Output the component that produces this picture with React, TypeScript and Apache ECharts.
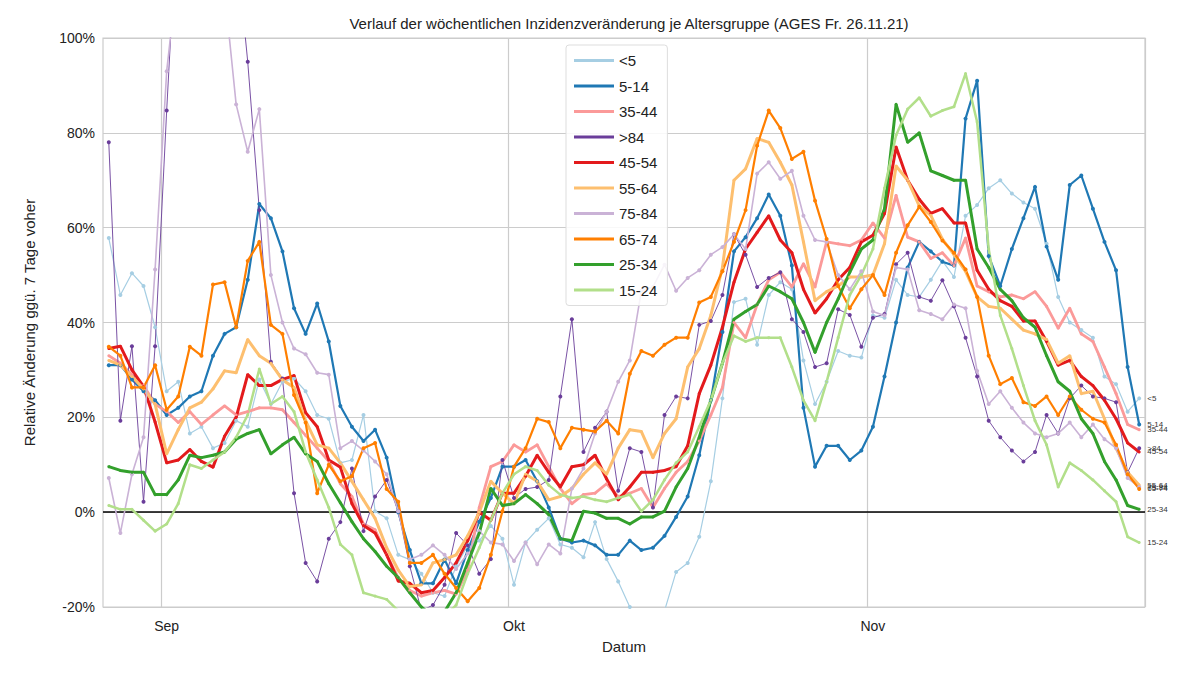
import React, { useEffect, useRef } from "react";
import * as echarts from "echarts";

// one value per day, 27.08.2021 .. 24.11.2021 (relative change vs. 7 days before, in %)
const startDate = "2021-08-27";
const dayCount = 90;
const monthNames = ["Jan", "Feb", "Mär", "Apr", "Mai", "Jun", "Jul", "Aug", "Sep", "Okt", "Nov", "Dez"];

const under5 = [57.8,45.8,50.4,47.7,39,25.5,27.5,16.6,18,13.5,14.6,19.3,18,28,22.8,27.5,28.2,25.5,20.5,19.7,10.4,11,20.5,0.2,-1.3,-9,-10,-13,-17,-17.7,
  -11.4,-7,-6,-2.9,-5.6,-15.3,-6.4,-3.7,-1.3,-6.8,-7.5,-9.5,-2.1,-9.9,-14.6,-20,-23,-23,-20.8,-12.6,-10.7,-5.2,6.5,24,44.3,45,35.3,45.8,48.5,47,
  32,22.8,27.5,34,33,32.6,41.5,41,49,45.8,45.4,49,53,49.6,62.5,64.8,68.3,70,67.2,65.3,64,56.6,45.4,40,38.4,36.8,28.6,27,21.2,24];
const age5to14 = [31,31,28,25.5,23.6,20.5,22,24.4,25.5,33,37.6,39,49,65,62,55,43,37.6,44,36,22.4,18,15,17.4,11.5,0,-8,-15,-15,-10,
  -15,-8,-2,3,9.6,9.6,11,6.5,1,-5.6,-6.4,-6,-7,-9,-9,-6,-8,-7.5,-5,-1,3.3,12,23.6,38,55,58,62,67,62.5,52,
  22,9.6,14,14,11,13,18,28.6,40,51.6,57,55,52.8,52,83,91,54,47.7,55.5,62,68.6,56,49,69,71,64,57,51,30.6,18.5];
const age35to44 = [33,31.4,29,26.7,22.8,21.2,18.9,21.2,18.5,20.5,22.4,20.5,21.2,22,22,21.6,18.9,16.2,13.5,10.7,6,3.3,-2.5,-3.7,-9,-13.8,-16.5,-17.7,-17,-16.5,
  -17.3,-12.2,1,9.6,10.7,14.2,12.7,14.2,9.6,5,1.8,3.7,4,6,3.3,4,5,1,5,8.4,10.7,15,20.5,26.3,40,36.8,43.8,49,50.6,47.5,
  52.4,47.5,57,56.6,56.2,57.4,61,57.8,66.8,58,57,53.5,54.7,52,57.8,47.7,46.5,45.4,45.8,45,46.5,43.4,38.8,43,37.6,36,30.6,25,18.5,17.4];
const over84 = [78,19.3,35,2.2,35,84.7,130,160,170,150,140,120,95,63.7,31.7,28.2,4,-10.7,-14.6,-5.6,-2.1,9.2,-4,3.3,6.8,0.2,-11.4,-20.8,-19.6,-15.3,
  -4.4,-7,-13,-9.9,11,3,4.9,5.3,6.8,24.4,40.7,12.7,17.8,21.2,4.5,13.5,12.7,1,20.5,24.4,24,39.5,40.3,45.8,58.6,54.3,47.5,49.4,50.6,40.7,
  38,30.6,31.4,42.8,41.6,34.9,41,41.8,52.3,54.7,45.4,44.6,48.9,43.4,36.8,28.6,19.3,15.8,13,10.7,12.7,20.5,16.6,24,26.7,24.4,24,23.2,8.4,13.5];
const age45to54 = [34.5,35,30,26.5,19,10.4,11,13.2,10.7,9.5,16,20,29,26.7,26.7,28,28.8,21,18,11,9.5,1.8,-2.8,-4.4,-9,-14.5,-15,-17,-16.5,-13.8,
  -10.7,-6,0,-1.7,4,4,7.6,12,8.4,5.3,9.6,10,12,7,2.6,5.3,8.4,8.4,8.8,9.6,14,25,31,39,48.5,55.5,59,62.5,57.4,54.7,
  47,42,45,49,51.6,57,58.4,63,77,70,66,63,64,61,61,51,47,44.6,43.4,40.3,40.3,36,31,32,28.6,26.7,23.6,19.7,14.6,12.7];
const age55to64 = [32,31,28.6,26,22.8,12.3,17.4,22,23.2,26,29.8,29.4,36.4,33,31.4,27.9,26.3,19.3,14.2,13.5,10.4,6.5,2.6,-1.3,-7.5,-12.2,-15.7,-15.3,-10.7,-10,
  -9,-5,0,6.5,4,1.8,8,6.5,2.6,3.3,5,8,10.4,8,13.5,17.4,17,11.5,16.6,19.7,30.6,34.5,41.5,51.6,70,72.4,78.8,78,73.8,69,
  57,44.6,46.5,47.7,49.6,49.6,50,56.6,73,70,64.6,62.6,57.6,54.3,50.8,45.4,43.4,43,40.7,38.4,37.6,36.4,31.4,33,25,25.5,19.7,13.5,8.4,5.7];
const age75to84 = [7.2,-4.4,8,15.8,51.2,93,115,130,140,130,110,86,76,85,50,40,34.5,33.3,29.4,29,13.5,15,13,10.7,8,0.2,-10,-9,-7,-9,
  -12,-8.7,-4,-6.4,-6.8,-10.3,-6.4,-11,-6.8,-8.7,5,9.2,16.6,21.2,27.5,32,46.7,47.5,52.2,46.7,49.4,51,54.3,55.9,58.6,55.5,71.4,73.8,70.3,72,
  62.5,57.4,57,50,47,50.8,42.3,41.5,51.6,51.2,42.6,41.8,40.7,43.8,43,29.8,22.8,25.5,22,18.9,16.6,15.8,16.6,18.9,15.8,18.5,15.4,13.5,7.2,5.3];
const age65to74 = [34.9,33,26.3,26.3,31,21.6,24.4,34.9,33,48,48.5,39,53,57,39.5,37.6,24.7,18.9,4,10,6.5,7.6,13.5,14.6,4.9,2.2,-10.7,-10.7,-9,-13,
  -16,-18.8,-16,-9,0.2,9.6,13.5,19.7,19,13.5,17.8,17.4,17,19.3,16.6,29.2,34,33,35.3,36.8,36.8,44.2,45.4,50.8,57,63.7,77.3,84.7,81,74.5,
  76,65.7,57.6,47.7,43,47,50,45.8,54.7,60.5,64.4,61.2,57.3,54.7,51.2,45.4,33,27,28.3,23.2,22.4,24.4,20.5,24.4,21.6,19.7,18.9,14.2,8,4.9];
const age25to34 = [9.6,8.8,8.4,8.4,3.7,3.7,6.8,12,11.5,12,12.7,15.4,16.6,17.4,12.3,14.2,15.8,12.3,10.7,6,2,-2,-5.6,-8.3,-11.4,-13.8,-17,-20,-22,-21,
  -17,-10.7,-4.4,5,1.4,1.8,3.7,1.8,-0.5,-5.6,-6,0.2,-0.2,-1.3,-1.3,-2.5,-1,-1,0.2,5.3,9.2,15.8,23.6,31.4,40.7,42.3,43.8,47.7,46.5,45,
  40,33.7,40,45,50.6,55.5,57.4,64,86,78,80,72,71,70,70,55.5,51.6,47,44.6,41,39,33,27.5,25.5,19.7,16.6,10.7,6.8,1.4,0.6];
const age15to24 = [1.4,0.6,0.6,-1.7,-4,-2.5,1.8,10,9.2,11,12.7,15.8,20.5,30.2,22.8,24.4,21.2,12.7,6.8,1,-6.8,-9,-17,-17.7,-18.4,-20.8,-22,-22,-22,-22,
  -19.6,-13,-7.5,-1.7,4,8,9.6,8.8,5.7,3.7,3,3.3,2.6,2.2,3,3.7,0.2,2.6,6.8,10.4,12.7,18,23.6,31.4,37.2,36,36.8,36.8,36.8,30.6,
  23.6,19.3,27.5,36.8,45.8,50,55.5,68.3,79.5,85,87.4,83.5,84.7,85.5,92.5,82.3,55.5,41.5,34.5,26.7,19.3,14.2,5.3,10.4,8.8,6.8,4.5,2.2,-5.2,-6.4];

// legend order as in the reference
const seriesList: { name: string; data: number[]; color: string; width: number; sym: number }[] = [
  { name: "<5", data: under5, color: "#a6cee3", width: 1.2, sym: 4 },
  { name: "5-14", data: age5to14, color: "#1f78b4", width: 2.2, sym: 4 },
  { name: "35-44", data: age35to44, color: "#fb9a99", width: 2.8, sym: 3 },
  { name: ">84", data: over84, color: "#6a3d9a", width: 0.9, sym: 4 },
  { name: "45-54", data: age45to54, color: "#e31a1c", width: 3, sym: 3 },
  { name: "55-64", data: age55to64, color: "#fdbf6f", width: 3, sym: 3 },
  { name: "75-84", data: age75to84, color: "#cab2d6", width: 1.6, sym: 4 },
  { name: "65-74", data: age65to74, color: "#ff7f00", width: 2.2, sym: 4 },
  { name: "25-34", data: age25to34, color: "#33a02c", width: 3, sym: 3 },
  { name: "15-24", data: age15to24, color: "#b2df8a", width: 2.5, sym: 3 },
];

const categories: string[] = [];
{
  const d = new Date(startDate + "T12:00:00");
  for (let i = 0; i < dayCount; i++) {
    categories.push(d.toISOString().slice(0, 10));
    d.setDate(d.getDate() + 1);
  }
}
const isMonthStart = (i: number) => categories[i].endsWith("-01");

const FONT = "'Liberation Sans', Arial, sans-serif";

export default function App() {
  const ref = useRef<HTMLDivElement>(null);

  useEffect(() => {
    if (!ref.current) return;
    const chart = echarts.init(ref.current, undefined, { renderer: "svg" });
    const series: any[] = seriesList.map((s) => ({
      name: s.name,
      type: "line",
      data: s.data,
      symbol: "circle",
      symbolSize: s.sym,
      showSymbol: true,
      lineStyle: { color: s.color, width: s.width },
      itemStyle: { color: s.color },
      endLabel: {
        show: true,
        formatter: s.name,
        fontSize: 8,
        color: "#333",
        fontFamily: FONT,
        distance: 8,
      },
      emphasis: { disabled: true },
      z: 3,
    }));
    series[0].markLine = {
      silent: true,
      symbol: "none",
      label: { show: false },
      lineStyle: { color: "#000", width: 1.5, type: "solid" },
      data: [{ yAxis: 0 }],
      z: 2,
    };

    chart.setOption({
      animation: false,
      backgroundColor: "#fff",
      textStyle: { fontFamily: FONT },
      title: {
        text: "Verlauf der wöchentlichen Inzidenzveränderung je Altersgruppe (AGES Fr. 26.11.21)",
        left: 616,
        top: 3,
        textAlign: "center",
        textStyle: { fontSize: 15, fontWeight: "normal", color: "#222", fontFamily: FONT },
      },
      legend: {
        orient: "vertical",
        left: 558,
        top: 37,
        itemWidth: 40,
        itemHeight: 3,
        itemGap: 10.5,
        icon: "rect",
        backgroundColor: "rgba(255,255,255,0.85)",
        borderColor: "#ddd",
        borderWidth: 1,
        borderRadius: 3,
        padding: [8, 10, 8, 8],
        textStyle: { fontSize: 15, color: "#222", fontFamily: FONT },
        data: seriesList.map((s) => ({ name: s.name, itemStyle: { color: s.color } })),
      },
      grid: { left: 95, right: 40, top: 30, bottom: 64, show: true, borderColor: "#ccc", borderWidth: 1.2 },
      xAxis: {
        type: "category",
        data: categories,
        boundaryGap: true,
        name: "Datum",
        nameLocation: "middle",
        nameGap: 32,
        nameTextStyle: { fontSize: 15, color: "#222" },
        axisLine: { show: false },
        axisTick: { show: false },
        axisLabel: {
          interval: (i: number) => isMonthStart(i),
          formatter: (v: string) => monthNames[Number(v.slice(5, 7)) - 1],
          fontSize: 14,
          color: "#222",
          margin: 12,
        },
        splitLine: { show: true, interval: (i: number) => isMonthStart(i), lineStyle: { color: "#ccc", width: 1.2 } },
      },
      yAxis: {
        type: "value",
        min: -20,
        max: 100,
        interval: 20,
        name: "Relative Änderung ggü. 7 Tage voher",
        nameLocation: "middle",
        nameGap: 66,
        nameTextStyle: { fontSize: 15, color: "#222" },
        axisLine: { show: false },
        axisTick: { show: false },
        axisLabel: { formatter: "{value}%", fontSize: 14, color: "#222" },
        splitLine: { lineStyle: { color: "#ccc", width: 1.2 } },
      },
      series,
    });
    return () => chart.dispose();
  }, []);

  return <div ref={ref} style={{ width: 1177, height: 663 }} />;
}
